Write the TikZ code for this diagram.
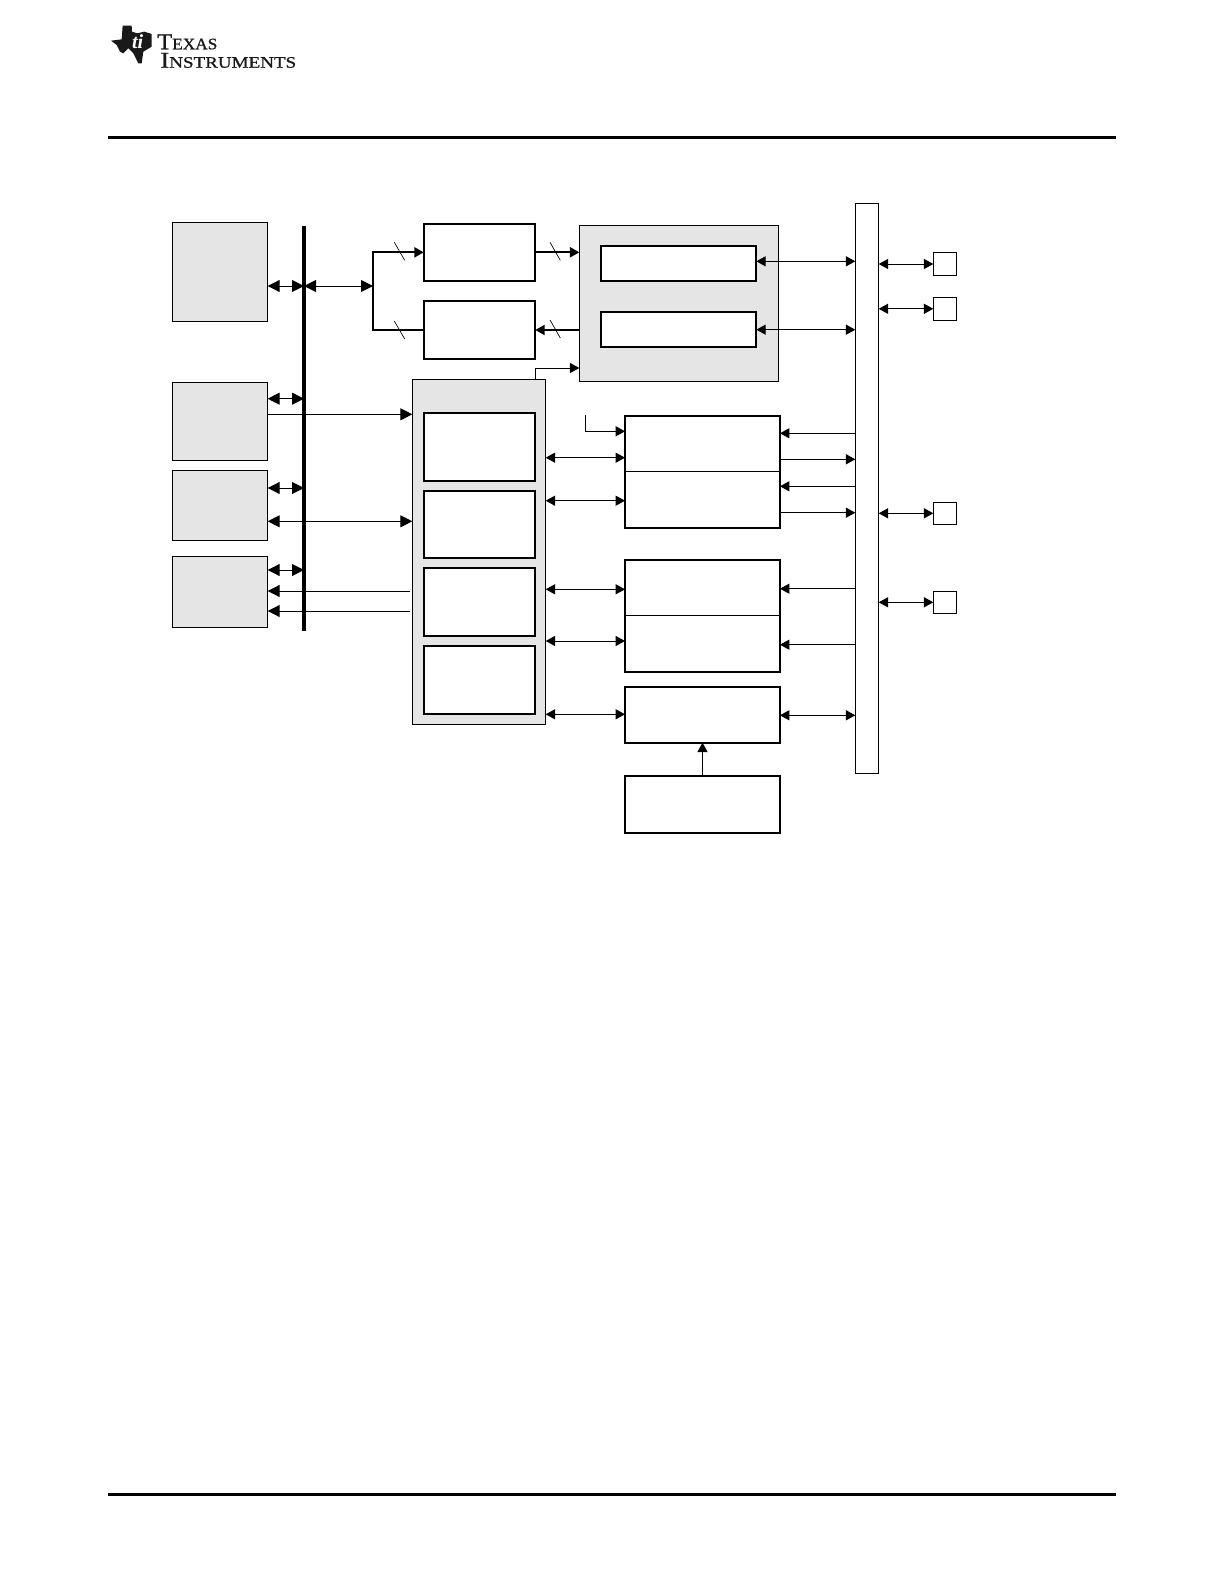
\documentclass[tikz,border=0pt]{standalone}
\usepackage{fontspec}
\setmainfont{Liberation Serif}
\newfontfamily\logoA[FakeBold=0.9,FakeStretch=1.08]{Liberation Serif}
\newfontfamily\logoB[FakeBold=0.9,FakeStretch=1.19]{Liberation Serif}
\usetikzlibrary{arrows.meta}
\definecolor{panelgray}{HTML}{E5E5E5}
\tikzset{
  thinbox/.style={draw=black,line width=0.75pt,inner sep=0pt,outer sep=0pt,anchor=north west},
  graybox/.style={thinbox,fill=panelgray},
  thickbox/.style={draw=black,line width=1.5pt,fill=white,inner sep=0pt,outer sep=0pt,anchor=north west},
  whitebox/.style={thinbox,fill=white},
  busbar/.style={fill=black,inner sep=0pt,outer sep=0pt,anchor=north west},
  link/.style={line width=0.75pt,draw=black},
  heavylink/.style={line width=1.5pt,draw=black},
  tick/.style={line width=0.5pt,draw=black},
  sa/.style={{Triangle[length=7pt,width=7.5pt]}-{Triangle[length=7pt,width=7.5pt]}},
  sr/.style={-{Triangle[length=7pt,width=7.5pt]}},
  ba/.style={{Triangle[length=9pt,width=9pt]}-{Triangle[length=9pt,width=9pt]}},
  br/.style={-{Triangle[length=9pt,width=9pt]}},
}
\newcommand{\boxat}[6][thinbox]{\node[#1,minimum width={(#5-#3)*0.75pt},minimum height={(#6-#4)*0.75pt}] (#2) at (#3,#4) {};}
\begin{document}
\begin{tikzpicture}[x=0.75pt,y=-0.75pt]
\useasboundingbox (0,0) rectangle (1224,1584);
\fill[white] (0,0) rectangle (1224,1584);
% logo
\begin{scope}[shift={(100,10)},x=0.25pt,y=-0.25pt]
\fill[black!90] (33,92) -- (65,88) -- (68,47) -- (95,47) -- (96,65) -- (112,70) -- (133,65) -- (155,72) -- (155,110) -- (130,125) -- (125,160) -- (115,160) -- (100,130) -- (85,115) -- (70,130) -- (60,125) -- (50,105) -- cycle;
\node[text=white,font={\fontsize{15}{15}\selectfont\bfseries\itshape},inner sep=0pt] (logoti) at (113,95) {ti};
\end{scope}
\node[anchor=base west,inner sep=0pt,text=black!90,align=left] (logoa) at (157,67.7) {{\logoA\fontsize{17}{14.5}\selectfont T\fontsize{12}{14.5}\selectfont EXAS}\\[1.8pt]\hspace*{2.25pt}{\logoB\fontsize{17}{14.5}\selectfont I\fontsize{12}{14.5}\selectfont NSTRUMENTS}};
% rules
\node[busbar,minimum width={1008*0.75pt},minimum height={3*0.75pt}] (toprule) at (108,135.8) {};
\node[busbar,minimum width={1008*0.75pt},minimum height={3*0.75pt}] (botrule) at (108,1493.3) {};
% gray containers
\boxat[graybox]{A}{172.3}{222}{267.7}{321.7}
\boxat[graybox]{Ab}{172.3}{382.3}{267.7}{460.3}
\boxat[graybox]{Ac}{172.3}{470.3}{267.7}{540.3}
\boxat[graybox]{Ad}{172.3}{556.3}{267.7}{627.3}
\boxat[graybox]{C}{579.3}{225.3}{778.7}{381.3}
\boxat[graybox]{D}{412.3}{379}{545.7}{724.3}
% thick boxes
\boxat[thickbox]{dacA}{423.7}{223.7}{535.3}{281}
\boxat[thickbox]{dacB}{423.7}{300.7}{535.3}{359}
\boxat[thickbox]{cA}{601}{245.7}{756.3}{281}
\boxat[thickbox]{cB}{601}{312}{756.3}{346.7}
\boxat[thickbox]{dA}{423.7}{412.7}{535.3}{481}
\boxat[thickbox]{dB}{423.7}{490.7}{535.3}{558}
\boxat[thickbox]{dC}{423.7}{567.7}{535.3}{636}
\boxat[thickbox]{dD}{423.7}{646}{535.3}{713.7}
\boxat[thickbox]{E}{625}{415.7}{780}{527.7}
\boxat[thickbox]{F}{625}{560}{780}{672}
\boxat[thickbox]{G}{625}{686.7}{780}{742.7}
\boxat[thickbox]{H}{625}{775.7}{780}{832.7}
% bars and pin boxes
\boxat[whitebox]{bar}{855.3}{203.3}{878.7}{773.3}
\boxat[whitebox]{pA}{933.3}{252.3}{956.7}{275.7}
\boxat[whitebox]{pB}{933.3}{297.3}{956.7}{320.3}
\boxat[whitebox]{pC}{933.3}{502.3}{956.7}{524.3}
\boxat[whitebox]{pD}{933.3}{591.3}{956.7}{613.3}
% dividers
\draw[link] (E.west |- 0,471.3) -- (E.east |- 0,471.3);
\draw[link] (F.west |- 0,615.3) -- (F.east |- 0,615.3);
% coordinates
\coordinate (jct) at (373,286);
\coordinate (dgap) at (410,0);
\coordinate (inE) at (585.3,415);
% left connectors
\draw[link,br] (Ab.east |- 0,414.3) -- (D.west |- 0,414.3);
\draw[link,ba] (Ac.east |- 0,521.3) -- (D.west |- 0,521.3);
\draw[link,br] (dgap |- 0,591) -- (Ad.east |- 0,591);
\draw[link,br] (dgap |- 0,611) -- (Ad.east |- 0,611);
% bus
\boxat[busbar]{bus}{302}{226}{306}{630.7}
\draw[link,ba] (A.east |- 0,286) -- (bus.center |- 0,286);
\draw[link,ba] (Ab.east |- 0,398.7) -- (bus.center |- 0,398.7);
\draw[link,ba] (Ac.east |- 0,488) -- (bus.center |- 0,488);
\draw[link,ba] (Ad.east |- 0,570) -- (bus.center |- 0,570);
\draw[link,ba] (bus.center |- 0,286) -- (jct);
% bracket
\draw[heavylink,sr] (jct) |- (dacA.west);
\draw[heavylink] (jct) |- (dacB.west);
\draw[heavylink,sr] (dacA.east |- 0,252.3) -- (C.west |- 0,252.3);
\draw[heavylink,sr] (C.west |- 0,330) -- (dacB.east |- 0,330);
\draw[link,sr] (dA.east |- D.north) |- (C.west |- 0,368);
% slashes
\draw[tick] (394.3,242.3) -- (404.7,260.3);
\draw[tick] (394.3,321) -- (404.7,339);
\draw[tick] (550,242.3) -- (560.3,260.3);
\draw[tick] (550,320) -- (560.3,338);
% D to right
\draw[link,sa] (D.east |- 0,457.7) -- (E.west |- 0,457.7);
\draw[link,sa] (D.east |- 0,500.7) -- (E.west |- 0,500.7);
\draw[link,sa] (D.east |- 0,589.3) -- (F.west |- 0,589.3);
\draw[link,sa] (D.east |- 0,641) -- (F.west |- 0,641);
\draw[link,sa] (D.east |- 0,714.3) -- (G.west |- 0,714.3);
\draw[link,sr] (inE) |- (E.west |- 0,431.3);
% to bar
\draw[link,sa] (cA.east |- 0,261.3) -- (bar.west |- 0,261.3);
\draw[link,sa] (cB.east |- 0,329.7) -- (bar.west |- 0,329.7);
\draw[link,sr] (bar.west |- 0,433.3) -- (E.east |- 0,433.3);
\draw[link,sr] (E.east |- 0,459.3) -- (bar.west |- 0,459.3);
\draw[link,sr] (bar.west |- 0,486.3) -- (E.east |- 0,486.3);
\draw[link,sr] (E.east |- 0,512.7) -- (bar.west |- 0,512.7);
\draw[link,sr] (bar.west |- 0,588.7) -- (F.east |- 0,588.7);
\draw[link,sr] (bar.west |- 0,644.7) -- (F.east |- 0,644.7);
\draw[link,sa] (G.east |- 0,715.3) -- (bar.west |- 0,715.3);
\draw[link,sr] (H.north) -- (G.south);
% bar to pins
\draw[link,sa] (bar.east |- pA.west) -- (pA.west);
\draw[link,sa] (bar.east |- pB.west) -- (pB.west);
\draw[link,sa] (bar.east |- pC.west) -- (pC.west);
\draw[link,sa] (bar.east |- pD.west) -- (pD.west);
\end{tikzpicture}
\end{document}
